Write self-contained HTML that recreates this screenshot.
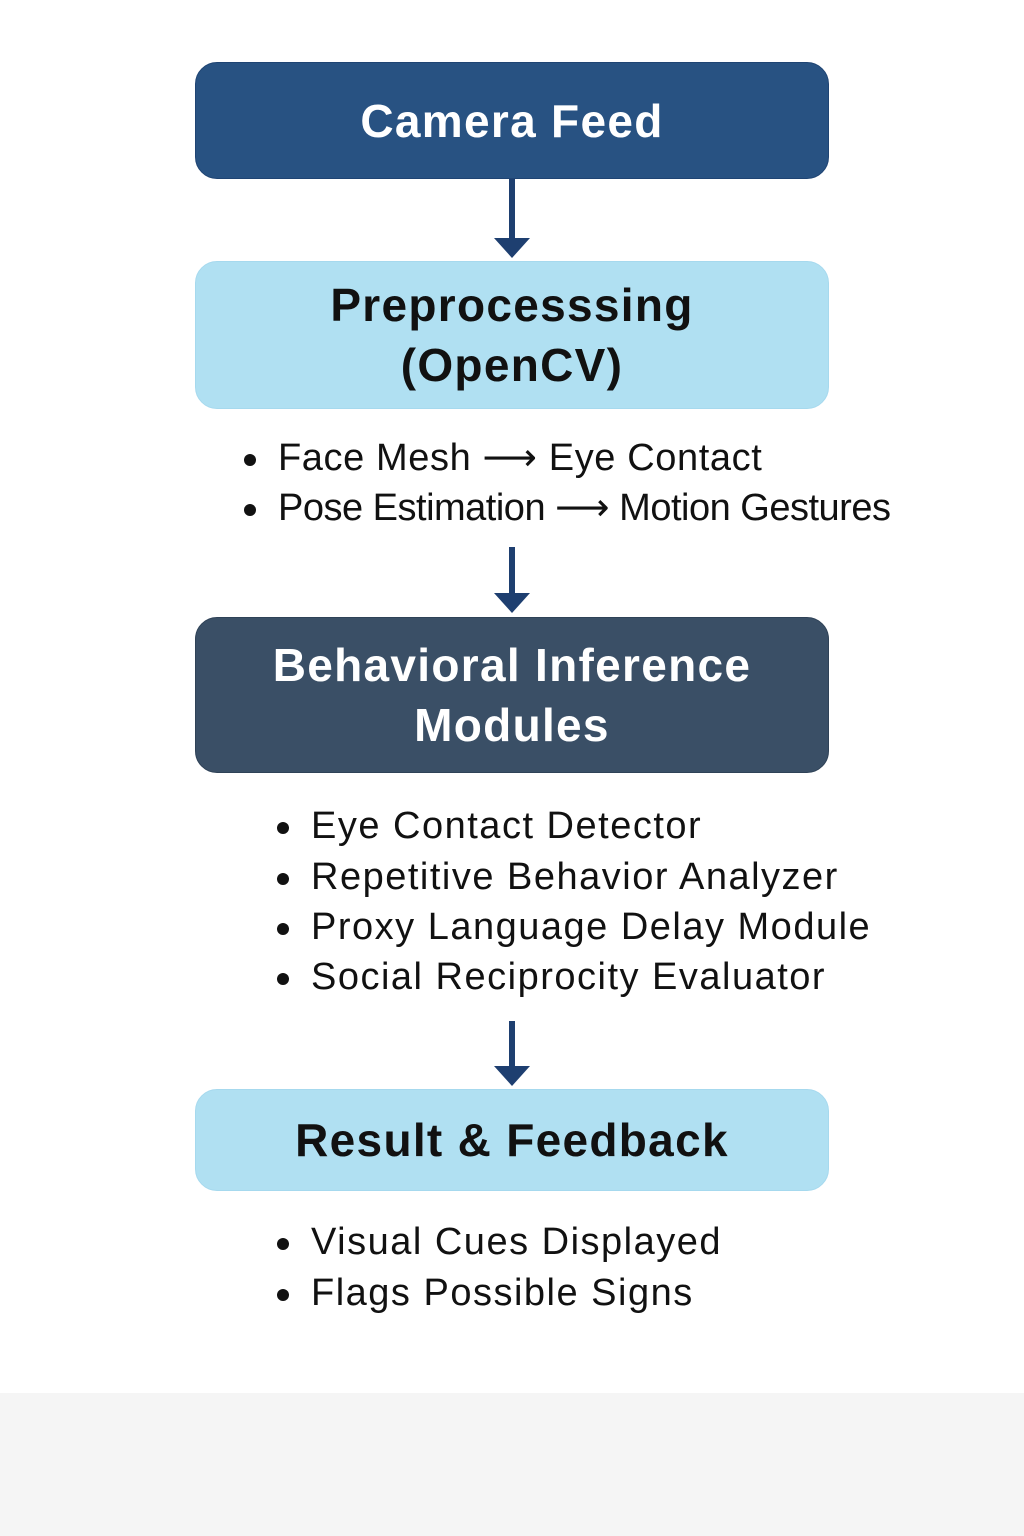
<!DOCTYPE html>
<html><head><meta charset="utf-8"><style>
body{margin:0;width:1024px;height:1536px;position:relative;background:#fff;font-family:"Liberation Sans","DejaVu Sans",sans-serif;overflow:hidden}
.foot{position:absolute;left:0;top:1393px;width:1024px;height:143px;background:#f5f5f5}
.box{position:absolute;left:195px;width:634px;border-radius:22px;display:flex;flex-direction:column;align-items:center;justify-content:center;font-weight:bold;font-size:46px;line-height:60px;text-align:center;box-sizing:border-box;letter-spacing:1.3px}
.dark{background:#285282;color:#fff;border:1px solid #1f4473}
.slate{background:#3a4f66;color:#fff;border:1px solid #2f4257}
.light{background:#b0e0f2;color:#111;border:1px solid #a6d9ee}
.t{position:absolute;font-size:38px;line-height:50px;color:#111;white-space:nowrap;letter-spacing:1.5px}
.t::before{content:"";position:absolute;left:-34px;top:21px;width:12px;height:12px;border-radius:50%;background:#111}
.arr{position:absolute;left:494px;width:36px}
</style></head><body>
<div class="box dark" style="top:62px;height:117px">Camera Feed</div>
<svg class="arr" style="top:179px;height:80px" viewBox="0 0 36 80"><rect x="15" y="0" width="6" height="62" fill="#1e3f70"/><polygon points="0,59 36,59 18,79" fill="#1e3f70"/></svg>
<div class="box light" style="top:261px;height:148px">Preprocesssing<br>(OpenCV)</div>
<div class="t" style="left:278px;top:433px;letter-spacing:0.6px">Face Mesh ⟶ Eye Contact</div>
<div class="t" style="left:278px;top:483px;letter-spacing:-0.5px">Pose Estimation ⟶ Motion Gestures</div>
<svg class="arr" style="top:547px;height:67px" viewBox="0 0 36 67"><rect x="15" y="0" width="6" height="50" fill="#1e3f70"/><polygon points="0,46 36,46 18,66" fill="#1e3f70"/></svg>
<div class="box slate" style="top:617px;height:156px">Behavioral Inference<br>Modules</div>
<div class="t" style="left:311px;top:801px">Eye Contact Detector</div>
<div class="t" style="left:311px;top:852px">Repetitive Behavior Analyzer</div>
<div class="t" style="left:311px;top:902px">Proxy Language Delay Module</div>
<div class="t" style="left:311px;top:952px">Social Reciprocity Evaluator</div>
<svg class="arr" style="top:1021px;height:66px" viewBox="0 0 36 66"><rect x="15" y="0" width="6" height="48" fill="#1e3f70"/><polygon points="0,45 36,45 18,65" fill="#1e3f70"/></svg>
<div class="box light" style="top:1089px;height:102px">Result &amp; Feedback</div>
<div class="t" style="left:311px;top:1217px">Visual Cues Displayed</div>
<div class="t" style="left:311px;top:1268px">Flags Possible Signs</div>
<div class="foot"></div>
</body></html>
